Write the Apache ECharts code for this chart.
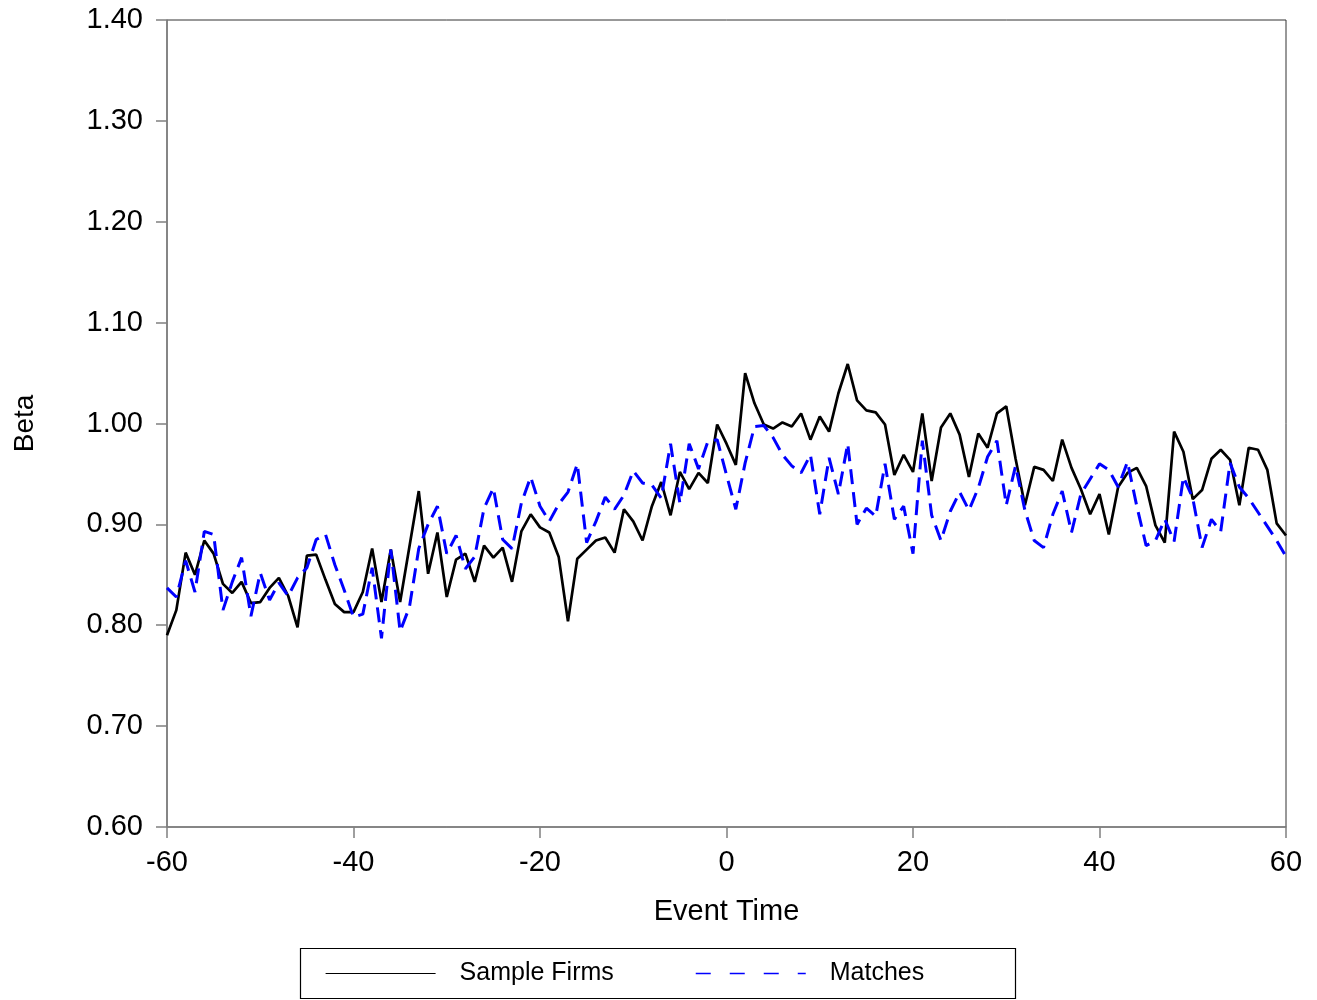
<!DOCTYPE html>
<html>
<head>
<meta charset="utf-8">
<script src="https://cdn.jsdelivr.net/npm/echarts@6/dist/echarts.min.js"></script>
<style>
	html, body { margin: 0; padding: 0; background: #fff; }
	#chart { width: 1317px; height: 1000px; }
</style>
</head>
<body>
<div id="chart"></div>
<script>
// event days -60 .. 60
var eventTime = [];
for (var t = -60; t <= 60; t++) eventTime.push(t);

// beta of the sample firms, one value per event day
var sampleFirms = [
	0.790, 0.815, 0.872, 0.850, 0.884, 0.871, 0.841, 0.832, 0.843, 0.822,
	0.823, 0.837, 0.847, 0.829, 0.798, 0.869, 0.870, 0.845, 0.821, 0.813,
	0.813, 0.833, 0.876, 0.823, 0.875, 0.823, 0.878, 0.933, 0.851, 0.892,
	0.828, 0.865, 0.871, 0.843, 0.879, 0.867, 0.877, 0.843, 0.893, 0.910,
	0.897, 0.892, 0.868, 0.804, 0.866, 0.875, 0.884, 0.887, 0.872, 0.915,
	0.903, 0.884, 0.918, 0.942, 0.909, 0.952, 0.935, 0.951, 0.941, 0.999,
	0.980, 0.959, 1.050, 1.020, 0.999, 0.995, 1.001, 0.997, 1.010, 0.984,
	1.007, 0.992, 1.030, 1.059, 1.023, 1.013, 1.011, 0.999, 0.949, 0.969,
	0.952, 1.010, 0.943, 0.996, 1.010, 0.989, 0.947, 0.990, 0.976, 1.010,
	1.017, 0.965, 0.919, 0.957, 0.954, 0.943, 0.984, 0.956, 0.935, 0.910,
	0.930, 0.890, 0.937, 0.951, 0.956, 0.938, 0.899, 0.882, 0.992, 0.972,
	0.925, 0.934, 0.965, 0.974, 0.964, 0.919, 0.976, 0.974, 0.954, 0.901,
	0.889
];

// beta of the matched firms
var matches = [
	0.837, 0.828, 0.864, 0.833, 0.893, 0.890, 0.815, 0.843, 0.867, 0.809,
	0.852, 0.825, 0.842, 0.829, 0.847, 0.857, 0.885, 0.890, 0.860, 0.835,
	0.808, 0.811, 0.857, 0.787, 0.875, 0.794, 0.818, 0.876, 0.900, 0.918,
	0.871, 0.889, 0.856, 0.868, 0.916, 0.936, 0.885, 0.876, 0.921, 0.947,
	0.918, 0.903, 0.920, 0.932, 0.960, 0.882, 0.903, 0.927, 0.915, 0.929,
	0.953, 0.941, 0.939, 0.926, 0.980, 0.921, 0.980, 0.955, 0.982, 0.984,
	0.949, 0.915, 0.961, 0.997, 0.998, 0.986, 0.969, 0.958, 0.951, 0.969,
	0.910, 0.966, 0.930, 0.980, 0.900, 0.916, 0.908, 0.960, 0.905, 0.918,
	0.871, 0.983, 0.909, 0.884, 0.913, 0.932, 0.914, 0.936, 0.967, 0.983,
	0.919, 0.958, 0.914, 0.884, 0.877, 0.910, 0.933, 0.892, 0.930, 0.945,
	0.960, 0.954, 0.937, 0.962, 0.918, 0.879, 0.884, 0.905, 0.883, 0.947,
	0.926, 0.877, 0.905, 0.893, 0.961, 0.937, 0.926, 0.912, 0.898, 0.884,
	0.868
];

var seriesNames = ['Sample Firms', 'Matches'];

function pairs(values) {
	return values.map(function (v, i) { return [eventTime[i], v]; });
}

var font = 'Liberation Sans, Arial, sans-serif';
var axisGrey = '#808080';

var myChart = echarts.init(document.getElementById('chart'), null, { renderer: 'canvas' });

var option = {
	animation: false,
	backgroundColor: '#fff',
	textStyle: { fontFamily: font, color: '#000' },
	grid: {
		left: 167, right: 31, top: 20, bottom: 173,
		show: true, borderColor: '#333', borderWidth: 1
	},
	xAxis: {
		type: 'value',
		min: -60, max: 60, interval: 20,
		name: 'Event Time',
		nameLocation: 'middle',
		nameGap: 70,
		nameTextStyle: { fontSize: 29, fontFamily: font, color: '#000' },
		axisLine: { onZero: false, lineStyle: { color: axisGrey, width: 1.5 } },
		axisTick: { inside: false, length: 11, lineStyle: { color: axisGrey, width: 1.5 } },
		axisLabel: { fontSize: 29, fontFamily: font, color: '#000', margin: 21 },
		splitLine: { show: false }
	},
	yAxis: {
		type: 'value',
		min: 0.6, max: 1.4, interval: 0.1,
		name: 'Beta',
		nameLocation: 'middle',
		nameGap: 128,
		nameTextStyle: { fontSize: 28, fontFamily: font, color: '#000' },
		axisLine: { show: true, onZero: false, lineStyle: { color: axisGrey, width: 1.5 } },
		axisTick: { show: true, inside: false, length: 11, lineStyle: { color: axisGrey, width: 1.5 } },
		axisLabel: {
			fontSize: 29, fontFamily: font, color: '#000', margin: 24,
			formatter: function (v) { return v.toFixed(2); }
		},
		splitLine: { show: false }
	},
	// two legends so each sample sits where it does in the original box
	legend: [
		{
			data: [seriesNames[0]],
			left: 325, top: 961, padding: 0,
			itemWidth: 110, itemHeight: 14,
			itemStyle: { opacity: 0 },
			lineStyle: { width: 1.2, color: '#000', type: 'solid' },
			textStyle: { fontSize: 25, fontFamily: font, color: '#000', padding: [0, 0, 0, 19] }
		},
		{
			data: [seriesNames[1]],
			left: 695, top: 961, padding: 0,
			itemWidth: 110, itemHeight: 14,
			itemStyle: { opacity: 0 },
			lineStyle: { width: 1.5, color: '#0000ff', type: [15, 19] },
			textStyle: { fontSize: 25, fontFamily: font, color: '#000', padding: [0, 0, 0, 19] }
		}
	],
	graphic: [
		{
			type: 'rect',
			shape: { x: 300.5, y: 948.5, width: 715, height: 50 },
			style: { fill: 'none', stroke: '#000', lineWidth: 1.2 },
			silent: true
		}
	],
	series: [
		{
			name: seriesNames[0],
			type: 'line',
			data: pairs(sampleFirms),
			symbol: 'none',
			lineStyle: { color: '#000', width: 2.7 },
			itemStyle: { color: '#000' }
		},
		{
			name: seriesNames[1],
			type: 'line',
			data: pairs(matches),
			symbol: 'none',
			lineStyle: { color: '#0000ff', width: 3, type: [15, 8] },
			itemStyle: { color: '#0000ff' }
		}
	]
};

myChart.setOption(option);
</script>
</body>
</html>
